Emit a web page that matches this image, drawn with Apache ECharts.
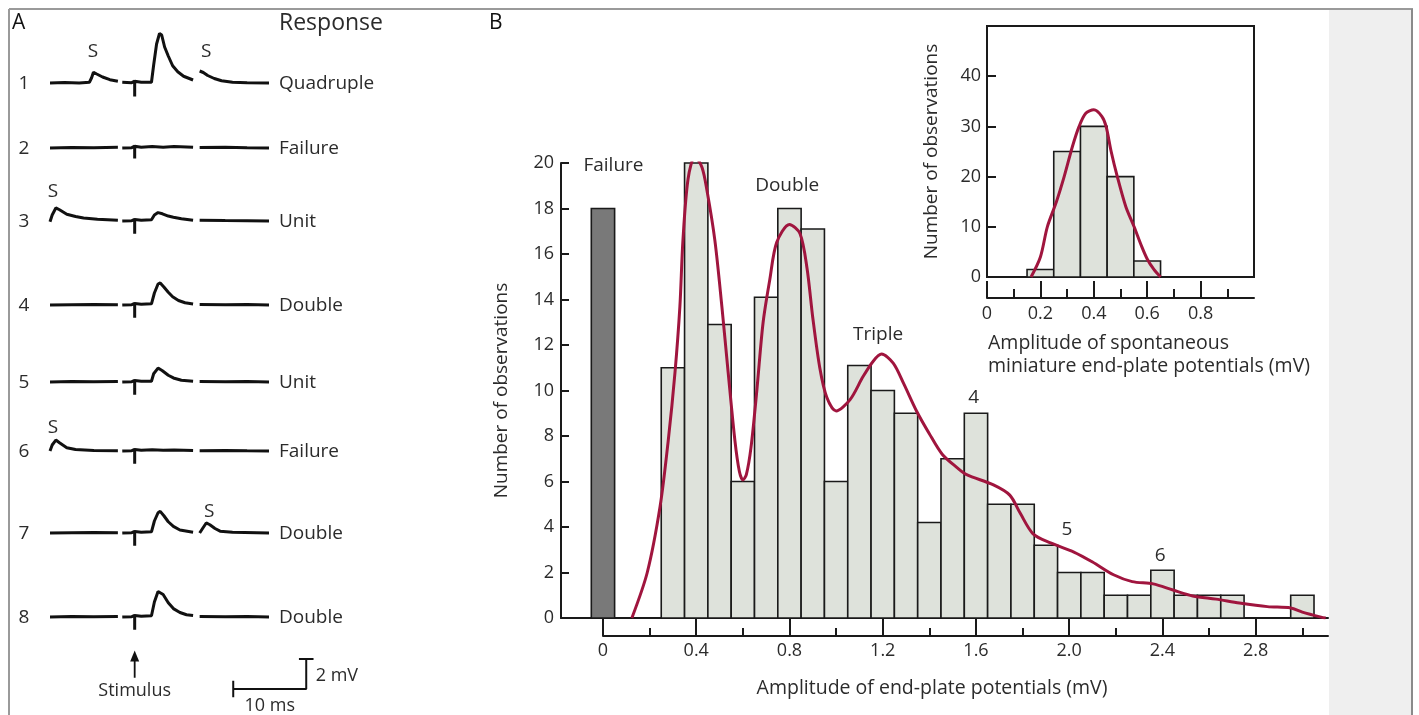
<!DOCTYPE html>
<html>
<head>
<meta charset="utf-8">
<title>Quantal end-plate potentials</title>
<style>
html, body { margin: 0; padding: 0; background: #fff; }
#chart { width: 1419px; height: 715px; }
</style>
<script src="https://cdn.jsdelivr.net/npm/echarts@6/dist/echarts.min.js"></script>
</head>
<body>
<div id="chart"></div>
<script>
// ---- panel B: evoked end-plate potential amplitudes (mV) ----
var epBinCenters = [0.3, 0.4, 0.5, 0.6, 0.7, 0.8, 0.9, 1.0, 1.1, 1.2, 1.3, 1.4, 1.5, 1.6,
                    1.7, 1.8, 1.9, 2.0, 2.1, 2.2, 2.3, 2.4, 2.5, 2.6, 2.7, 2.8, 2.9, 3.0];
var epCounts = [11, 20, 12.9, 6, 14.1, 18, 17.1, 6, 11.1, 10, 9, 4.2, 7, 9,
                5, 5, 3.2, 2, 2, 1, 1, 2.1, 1, 1, 1, 0, 0, 1];
var failureBin = [[0, 18]];
var epFit = [[0.124, 0], [0.19, 2.0], [0.245, 4.9], [0.28, 7.8], [0.309, 10.8], [0.33, 13.7],
             [0.343, 16.6], [0.365, 19.3], [0.395, 20.3], [0.425, 19.8], [0.446, 18.8], [0.48, 16.6],
             [0.51, 13.7], [0.537, 10.8], [0.566, 7.8], [0.585, 6.45], [0.6, 6.07], [0.615, 6.3],
             [0.635, 7.5], [0.66, 10.0],
             [0.687, 13.0], [0.716, 14.9], [0.745, 16.5], [0.8, 17.3], [0.845, 16.9], [0.875, 15.4],
             [0.9, 13.2], [0.93, 11.0], [0.96, 9.7], [1.0, 9.1], [1.06, 9.6], [1.115, 10.6],
             [1.16, 11.3], [1.195, 11.6], [1.245, 11.2], [1.29, 10.3], [1.345, 9.1], [1.4, 8.1],
             [1.455, 7.2], [1.52, 6.6], [1.56, 6.3], [1.675, 5.85], [1.745, 5.4], [1.79, 4.6],
             [1.845, 3.7], [1.92, 3.3], [2.02, 2.9], [2.1, 2.46], [2.19, 1.9], [2.27, 1.6],
             [2.36, 1.5], [2.445, 1.23], [2.53, 0.97], [2.63, 0.83], [2.73, 0.66], [2.85, 0.5],
             [2.95, 0.44], [3.0, 0.26], [3.08, 0.04], [3.1, 0]];
var epTicks = [0, 0.4, 0.8, 1.2, 1.6, 2.0, 2.4, 2.8];
var epMinorTicks = [0.2, 0.6, 1.0, 1.4, 1.8, 2.2, 2.6, 3.0];
var peakNames = ['Failure', 'Unit', 'Double', 'Triple', '4', '5', '6'];
var peakNameAt = [[0.045, 19.9], [0.4, 21.05], [0.79, 19.0], [1.18, 12.45], [1.59, 9.7], [1.99, 3.87], [2.39, 2.73]];

// ---- inset: spontaneous miniature potentials ----
var mepBinCenters = [0.2, 0.3, 0.4, 0.5, 0.6];
var mepCounts = [1.5, 25, 30, 20, 3.2];
var mepFit = [[0.165, 0], [0.2, 4], [0.226, 10], [0.26, 15], [0.289, 20], [0.32, 26], [0.345, 30],
              [0.37, 32.6], [0.4, 33.3], [0.43, 32], [0.446, 30], [0.465, 25], [0.488, 20],
              [0.52, 14], [0.551, 10], [0.58, 6], [0.6, 3.6], [0.625, 1.5], [0.65, 0]];
var mepTicks = [0, 0.2, 0.4, 0.6, 0.8];
var mepMinorTicks = [0.1, 0.3, 0.5, 0.7, 0.9];
var mepCountTicks = [0, 10, 20, 30, 40];

// ---- panel A: recordings, [ms, mV], three sweeps per row ----
var trace1 = [
  [[0, 0], [2, 0.03], [4, 0], [5.4, 0.05], [5.7, 0.35], [5.95, 0.72], [6.4, 0.6], [7.2, 0.4], [8.2, 0.22], [9.3, 0.12]],
  [[9.9, 0.05], [11.2, 0.02], [11.6, 0.12], [11.6, -0.9], [11.6, 0.12], [12.5, 0.05], [13.9, 0.05], [14.2, 1.2], [14.6, 2.6],
   [15.0, 3.3], [15.3, 3.2], [15.7, 2.4], [16.2, 1.8], [16.8, 1.15], [17.5, 0.75], [18.3, 0.45], [19.6, 0.2]],
  [[20.5, 0.8], [21.0, 0.7], [21.6, 0.5], [22.5, 0.3], [23.5, 0.15], [25, 0.05], [27, 0.02], [30, 0]]
];
var trace2 = [
  [[0, 0], [3, 0.03], [6, 0.02], [9.3, 0.05]],
  [[9.9, 0], [11.2, 0.02], [11.6, 0.12], [11.6, -0.7], [11.6, 0.12], [12.5, 0.05], [14, 0.1], [15.5, 0.05], [17, 0.1], [19.6, 0.05]],
  [[20.5, 0.03], [24, 0.05], [27, 0.02], [30, 0]]
];
var trace3 = [
  [[0, -0.05], [0.3, 0.4], [0.8, 0.87], [1.3, 0.75], [2.3, 0.45], [3.5, 0.3], [4.6, 0.2], [6.5, 0.12], [9.3, 0.05]],
  [[9.9, 0], [11.2, 0.02], [11.6, 0.1], [11.6, -0.85], [11.6, 0.1], [12.5, 0.05], [13.9, 0.08], [14.3, 0.4], [14.8, 0.56],
   [15.4, 0.48], [16.2, 0.33], [16.9, 0.25], [18, 0.15], [19.6, 0.05]],
  [[20.5, 0.05], [24, 0.03], [27, 0.02], [30, 0]]
];
var trace4 = [
  [[0, 0], [3, 0.02], [6, 0.03], [9.3, 0.02]],
  [[9.9, 0], [11.2, 0.02], [11.6, 0.1], [11.6, -0.85], [11.6, 0.1], [12.5, 0.05], [13.9, 0.08], [14.3, 0.8], [14.8, 1.4],
   [15.1, 1.47], [15.6, 1.2], [16.2, 0.85], [16.8, 0.55], [17.6, 0.3], [18.5, 0.15], [19.6, 0.07]],
  [[20.5, 0.03], [24, 0.02], [27, 0.03], [30, 0]]
];
var trace5 = [
  [[0, 0], [3, 0.03], [6, 0.01], [9.3, 0.03]],
  [[9.9, 0], [11.2, 0.02], [11.6, 0.1], [11.6, -0.85], [11.6, 0.1], [12.5, 0.05], [13.9, 0.05], [14.2, 0.55], [14.8, 0.93],
   [15.4, 0.75], [16.2, 0.45], [16.9, 0.27], [18, 0.12], [19.6, 0.05]],
  [[20.5, 0.03], [24, 0.02], [27, 0.03], [30, 0]]
];
var trace6 = [
  [[0, 0], [0.3, 0.4], [0.8, 0.73], [1.3, 0.55], [2.3, 0.22], [3.5, 0.1], [6, 0.03], [9.3, 0.02]],
  [[9.9, 0], [11.2, 0.02], [11.6, 0.1], [11.6, -0.85], [11.6, 0.1], [12.5, 0.05], [14, 0.08], [15.5, 0.05], [17, 0.07], [19.6, 0.03]],
  [[20.5, 0.02], [24, 0.03], [27, 0.01], [30, 0]]
];
var trace7 = [
  [[0, 0], [3, 0.02], [6, 0.03], [9.3, 0.02]],
  [[9.9, 0], [11.2, 0.02], [11.6, 0.1], [11.6, -0.85], [11.6, 0.1], [12.5, 0.05], [13.9, 0.08], [14.3, 0.8], [14.8, 1.35],
   [15.1, 1.44], [15.6, 1.15], [16.2, 0.75], [16.9, 0.44], [17.8, 0.2], [19.6, 0.05]],
  [[20.5, 0], [20.9, 0.3], [21.4, 0.67], [21.9, 0.55], [22.6, 0.3], [23.3, 0.12], [25, 0.05], [30, 0]]
];
var trace8 = [
  [[0, 0], [3, 0.03], [6, 0.02], [9.3, 0.03]],
  [[9.9, 0], [11.2, 0.02], [11.6, 0.1], [11.6, -0.85], [11.6, 0.1], [12.5, 0.05], [13.9, 0.08], [14.3, 1.0], [14.8, 1.7],
   [15.05, 1.78], [15.5, 1.5], [16.2, 0.95], [16.9, 0.56], [17.8, 0.3], [18.7, 0.15], [19.6, 0.1]],
  [[20.5, 0.03], [24, 0.02], [27, 0.03], [30, 0]]
];
var traces = [trace1, trace2, trace3, trace4, trace5, trace6, trace7, trace8];
var rowNumbers = ['1', '2', '3', '4', '5', '6', '7', '8'];
var responses = ['Quadruple', 'Failure', 'Unit', 'Double', 'Unit', 'Failure', 'Double', 'Double'];
// spontaneous minis marked "S": [row, ms, mV of label]
var spontMarks = [[0, 5.9, 2.07], [0, 21.4, 2.07], [2, 0.4, 1.93], [5, 0.4, 1.53], [6, 21.8, 1.4]];
var stimulusMs = 11.6;
var scaleMs = 10, scaleMv = 2;

// ---- layout ----
var rowBaselines = [83, 148, 221, 305, 382, 451, 533, 617];
var FONT = '"Open Sans", "Liberation Sans", Arial, sans-serif';
var INK = '#2b2b2b';
var AXIS = '#1a1a1a';
var BAR_FILL = '#dee2db';
var FIT = '#a0153e';

function binRenderer(halfWidth, fill) {
    return function(params, api) {
        var x = api.value(0), n = api.value(1);
        if (!n) return { type: 'group', children: [] };
        var tl = api.coord([x - halfWidth, n]);
        var br = api.coord([x + halfWidth, 0]);
        return {
            type: 'rect',
            shape: { x: tl[0], y: tl[1], width: br[0] - tl[0], height: br[1] - tl[1] },
            style: { fill: fill, stroke: AXIS, lineWidth: 1.6 }
        };
    };
}

function pairs(xs, ys) {
    return xs.map(function(x, i) { return [x, ys[i]]; });
}

function textLabel(size, position) {
    return { show: true, position: position || 'inside', distance: 0, formatter: '{b}',
             fontFamily: FONT, fontSize: size, color: INK, opacity: 1 };
}

var labelStyle = { fontFamily: FONT, fontSize: 18, color: INK };
var grids = [
    { left: 561, right: 91, top: 163, bottom: 97 },           // 0 main histogram
    { left: 603, right: 91, top: 600, bottom: 79 },           // 1 main tick axis
    { left: 987, right: 165, top: 26, bottom: 438, show: true, borderColor: AXIS, borderWidth: 2, backgroundColor: '#fff' }, // 2 inset
    { left: 987, right: 165, top: 270, bottom: 417 }          // 3 inset tick axis
];
var xAxes = [
    { gridIndex: 0, type: 'value', min: -0.18, max: 3.11,
      axisLine: { onZero: false, lineStyle: { color: AXIS, width: 2 } },
      axisTick: { show: false }, axisLabel: { show: false }, splitLine: { show: false },
      name: 'Amplitude of end-plate potentials (mV)', nameLocation: 'middle', nameGap: 60,
      nameTextStyle: { fontFamily: FONT, fontSize: 19.5, color: INK, padding: [0, 25, 0, 0] } },
    { gridIndex: 1, type: 'value', min: 0, max: 3.11, axisLine: { lineStyle: { color: AXIS, width: 2 } },
      axisTick: { inside: true, length: 17, lineStyle: { color: AXIS, width: 2 }, customValues: epTicks },
      axisLabel: Object.assign({ margin: 6, customValues: epTicks,
          formatter: function(v) { return v === 0 ? '0' : v.toFixed(1); } }, labelStyle),
      splitLine: { show: false } },
    { gridIndex: 1, type: 'value', min: 0, max: 3.11, position: 'bottom', axisLine: { show: false },
      axisTick: { inside: true, length: 8, lineStyle: { color: AXIS, width: 2 }, customValues: epMinorTicks },
      axisLabel: { show: false }, splitLine: { show: false } },
    { gridIndex: 2, type: 'value', min: 0, max: 1, show: false },
    { gridIndex: 3, type: 'value', min: 0, max: 1, axisLine: { lineStyle: { color: AXIS, width: 2 } },
      axisTick: { inside: true, length: 17, lineStyle: { color: AXIS, width: 2 }, customValues: mepTicks },
      axisLabel: Object.assign({ margin: 7, customValues: mepTicks,
          formatter: function(v) { return v === 0 ? '0' : v.toFixed(1); } }, labelStyle),
      splitLine: { show: false } },
    { gridIndex: 3, type: 'value', min: 0, max: 1, position: 'bottom', axisLine: { show: false },
      axisTick: { inside: true, length: 9, lineStyle: { color: AXIS, width: 2 }, customValues: mepMinorTicks },
      axisLabel: { show: false }, splitLine: { show: false } }
];
var yAxes = [
    { gridIndex: 0, type: 'value', min: 0, max: 20, interval: 2,
      axisLine: { show: true, onZero: false, lineStyle: { color: AXIS, width: 2 } },
      axisTick: { show: true, inside: true, length: 8, lineStyle: { color: AXIS, width: 2 } },
      axisLabel: Object.assign({ margin: 7 }, labelStyle), splitLine: { show: false },
      name: 'Number of observations', nameLocation: 'middle', nameRotate: 90, nameGap: 50,
      nameTextStyle: { fontFamily: FONT, fontSize: 19, color: INK } },
    { gridIndex: 1, type: 'value', min: 0, max: 1, show: false },
    { gridIndex: 2, type: 'value', min: 0, max: 50,
      axisLine: { show: true, onZero: false, lineStyle: { color: AXIS, width: 2 } },
      axisTick: { show: true, inside: true, length: 9, lineStyle: { color: AXIS, width: 2 }, customValues: mepCountTicks },
      axisLabel: Object.assign({ margin: 6, customValues: mepCountTicks }, labelStyle), splitLine: { show: false },
      name: 'Number of observations', nameLocation: 'middle', nameRotate: 90, nameGap: 46,
      nameTextStyle: { fontFamily: FONT, fontSize: 19, color: INK } },
    { gridIndex: 3, type: 'value', min: 0, max: 1, show: false }
];

var series = [
    { type: 'custom', xAxisIndex: 0, yAxisIndex: 0, renderItem: binRenderer(0.05, BAR_FILL),
      data: pairs(epBinCenters, epCounts), z: 2 },
    { type: 'custom', xAxisIndex: 0, yAxisIndex: 0, renderItem: binRenderer(0.05, '#797979'),
      data: failureBin, z: 2 },
    { type: 'line', xAxisIndex: 0, yAxisIndex: 0, data: epFit, smooth: 0.3, showSymbol: false,
      lineStyle: { color: FIT, width: 3 }, z: 5 },
    { type: 'scatter', xAxisIndex: 0, yAxisIndex: 0, symbolSize: 0, z: 6, itemStyle: { opacity: 1 },
      data: peakNames.map(function(n, i) { return { name: n, value: peakNameAt[i] }; }),
      label: textLabel(19) },
    { type: 'custom', xAxisIndex: 3, yAxisIndex: 2, renderItem: binRenderer(0.05, BAR_FILL),
      data: pairs(mepBinCenters, mepCounts), z: 2 },
    { type: 'line', xAxisIndex: 3, yAxisIndex: 2, data: mepFit, smooth: 0.3, showSymbol: false,
      lineStyle: { color: FIT, width: 3 }, z: 5 }
];

// panel A: one small grid per recording row, 7.3 px per ms and 15 px per mV
var traceLine = { color: '#111', width: 3 };
rowBaselines.forEach(function(yb, r) {
    var gi = grids.length;
    grids.push({ left: 50, top: yb - 52.5, width: 270.1, height: 150 });
    xAxes.push({ gridIndex: gi, type: 'value', min: 0, max: 37, show: false });
    yAxes.push({ gridIndex: gi, type: 'value', min: -6.5, max: 3.5, show: false });
    var xi = xAxes.length - 1, yi = yAxes.length - 1;
    traces[r].forEach(function(seg) {
        series.push({ type: 'line', xAxisIndex: xi, yAxisIndex: yi, data: seg, showSymbol: false,
                      lineStyle: traceLine, clip: false });
    });
    var marks = spontMarks.filter(function(m) { return m[0] === r; });
    if (marks.length) {
        series.push({ type: 'scatter', xAxisIndex: xi, yAxisIndex: yi, symbolSize: 0, itemStyle: { opacity: 1 },
            data: marks.map(function(m) { return { name: 'S', value: [m[1], m[2]] }; }),
            label: textLabel(19) });
    }
    if (r === rowBaselines.length - 1) {
        // stimulus arrow
        series.push({ type: 'line', xAxisIndex: xi, yAxisIndex: yi, showSymbol: true, clip: false,
            data: [{ value: [stimulusMs, -4.05], symbol: 'none' },
                   { value: [stimulusMs, -2.6], symbol: 'triangle', symbolSize: [9, 11] }],
            lineStyle: { color: '#111', width: 1.8 }, itemStyle: { color: '#111', opacity: 1 } });
        // scale bar
        var t0 = 25.1, v0 = -4.8;
        var barLine = { color: '#111', width: 2 };
        [[[t0, v0], [t0 + scaleMs, v0], [t0 + scaleMs, v0 + scaleMv]],
         [[t0, v0 + 0.55], [t0, v0 - 0.55]],
         [[t0 + scaleMs - 1.0, v0 + scaleMv], [t0 + scaleMs + 1.0, v0 + scaleMv]]].forEach(function(d) {
            series.push({ type: 'line', xAxisIndex: xi, yAxisIndex: yi, data: d, showSymbol: false,
                          clip: false, lineStyle: barLine });
        });
        series.push({ type: 'scatter', xAxisIndex: xi, yAxisIndex: yi, symbolSize: 0, itemStyle: { opacity: 1 },
            data: [{ name: 'Stimulus', value: [stimulusMs, -4.9] },
                   { name: scaleMs + ' ms', value: [t0 + scaleMs / 2, -5.95] }],
            label: textLabel(18) });
        series.push({ type: 'scatter', xAxisIndex: xi, yAxisIndex: yi, symbolSize: 0, itemStyle: { opacity: 1 },
            data: [{ name: scaleMv + ' mV', value: [t0 + scaleMs + 1.3, v0 + scaleMv - 1.1] }],
            label: textLabel(18, 'right') });
    }
});

function txt(x, y, text, size, align, color) {
    return { type: 'text', x: x, y: y, silent: true, z: 10,
             style: { text: text, font: size + 'px ' + FONT, fill: color || INK,
                      textAlign: align || 'left', textVerticalAlign: 'middle' } };
}

var graphics = [
    { type: 'rect', shape: { x: 1329, y: 10, width: 83, height: 705 }, style: { fill: '#efefef' }, z: -1 },
    { type: 'line', shape: { x1: 9, y1: 9, x2: 1413, y2: 9 }, style: { stroke: '#9a9a9a', lineWidth: 2 } },
    { type: 'line', shape: { x1: 9, y1: 9, x2: 9, y2: 715 }, style: { stroke: '#9a9a9a', lineWidth: 2 } },
    { type: 'line', shape: { x1: 1412, y1: 9, x2: 1412, y2: 715 }, style: { stroke: '#8a8a8a', lineWidth: 2 } },
    txt(12, 23, 'A', 21, 'left', '#111'),
    txt(489, 23, 'B', 21, 'left', '#111'),
    txt(279, 23, 'Response', 23),
    txt(988, 343, 'Amplitude of spontaneous', 19.5),
    txt(988, 366, 'miniature end-plate potentials (mV)', 19.5)
];
rowBaselines.forEach(function(yb, r) {
    graphics.push(txt(24, yb + 1, rowNumbers[r], 19, 'center'));
    graphics.push(txt(279, yb + 1, responses[r], 19));
});

var chart = echarts.init(document.getElementById('chart'));
chart.setOption({
    animation: false,
    backgroundColor: '#fff',
    grid: grids,
    xAxis: xAxes,
    yAxis: yAxes,
    series: series,
    graphic: graphics
});
</script>
</body>
</html>
